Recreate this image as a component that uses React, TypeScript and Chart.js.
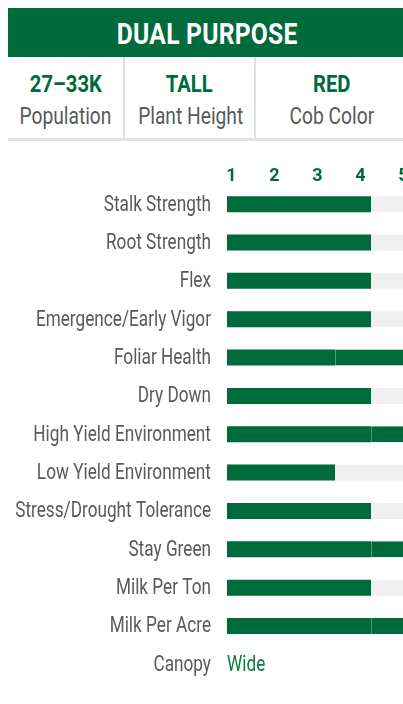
import React, { useEffect, useRef } from "react";
import { Chart, registerables } from "chart.js";

Chart.register(...registerables);

const title = "DUAL PURPOSE";
const statValues = ["27–33K", "TALL", "RED"];
const statLabels = ["Population", "Plant Height", "Cob Color"];
const statWidths = [115, 129, 151];

const traits = [
  "Stalk Strength",
  "Root Strength",
  "Flex",
  "Emergence/Early Vigor",
  "Foliar Health",
  "Dry Down",
  "High Yield Environment",
  "Low Yield Environment",
  "Stress/Drought Tolerance",
  "Stay Green",
  "Milk Per Ton",
  "Milk Per Acre",
  "Canopy",
];
const baseScores = [4, 4, 4, 4, 3, 4, 4, 3, 4, 4, 4, 4, null];
const extraScores = [null, null, null, null, 2, null, 1, null, null, 1, null, 1, null];
const scaleMax = 5;
const ratingTicks = [1, 2, 3, 4, 5];
const canopyIndex = 12;
const canopyValue = "Wide";

const GREEN = "#006b3a";
const TEXT_GREEN = "#0a7a3e";
const GRAY = "#58595b";
const FONT = "Roboto, 'Noto Sans', sans-serif";
const CONDENSE = 0.8;
const CONDENSE_BOLD = 0.86;
const CONDENSE_TITLE = 0.835;

function Condensed({ children, k }: { children: React.ReactNode; k: number }) {
  return (
    <span style={{ display: "inline-block", transform: `scaleX(${k})`, transformOrigin: "center", whiteSpace: "nowrap" }}>
      {children}
    </span>
  );
}

export default function App() {
  const ref = useRef<HTMLCanvasElement | null>(null);

  useEffect(() => {
    if (!ref.current) return;
    const trackData = baseScores.map((v) => (v == null ? null : scaleMax));
    const labelPlugin = {
      id: "condensedLabels",
      afterDatasetsDraw(chart: any) {
        const { ctx, chartArea, scales } = chart;
        const y = scales.y;
        const drawText = (text: string, x: number, py: number, align: CanvasTextAlign, color: string) => {
          ctx.save();
          ctx.translate(x, py);
          ctx.scale(CONDENSE, 1);
          ctx.font = `21.5px ${FONT}`;
          ctx.fillStyle = color;
          ctx.textAlign = align;
          ctx.textBaseline = "middle";
          ctx.fillText(text, 0, 0);
          ctx.restore();
        };
        chart.data.labels.forEach((lab: string, i: number) => {
          drawText(lab, chartArea.left - 16, y.getPixelForTick(i) + 1, "right", GRAY);
        });
        drawText(canopyValue, chartArea.left, y.getPixelForValue(canopyIndex) + 1, "left", TEXT_GREEN);
      },
    };
    const chart = new Chart(ref.current, {
      type: "bar",
      data: {
        labels: traits,
        datasets: [
          {
            label: "track",
            data: trackData,
            backgroundColor: "#efefef",
            stack: "track",
            grouped: false,
            order: 2,
            maxBarThickness: 16,
          } as any,
          {
            label: "base",
            data: baseScores,
            backgroundColor: GREEN,
            stack: "main",
            grouped: false,
            order: 1,
            maxBarThickness: 16,
          },
          {
            label: "extra",
            data: extraScores,
            backgroundColor: GREEN,
            borderColor: "#4f9a70",
            borderWidth: { left: 1, right: 0, top: 0, bottom: 0 },
            borderSkipped: false,
            stack: "main",
            grouped: false,
            order: 1,
            maxBarThickness: 16,
          },
        ],
      },
      options: {
        indexAxis: "y",
        responsive: false,
        animation: false,
        layout: { padding: { top: 0, left: 0, right: 13, bottom: 1.5 } },
        plugins: { legend: { display: false }, tooltip: { enabled: false } },
        scales: {
          x: { display: false, stacked: true, min: 0, max: scaleMax },
          x2: {
            type: "linear",
            position: "top",
            min: 1 - 4.5 / 43,
            max: 1 - 4.5 / 43 + 180 / 43,
            grid: { display: false, drawTicks: false },
            border: { display: false },
            afterBuildTicks: (s: any) => {
              s.ticks = ratingTicks.map((v) => ({ value: v }));
            },
            afterFit: (s: any) => {
              s.height = 40;
            },
            ticks: {
              padding: 0,
              color: GREEN,
              font: { family: FONT, size: 18, weight: "bold", lineHeight: 1 },
              callback: (v: any) => String(v),
              maxRotation: 0,
              autoSkip: false,
            },
          },
          y: {
            grid: { display: false, drawTicks: false },
            border: { display: false },
            afterFit: (s: any) => {
              s.width = 219;
            },
            ticks: { display: false },
          },
        },
      },
      plugins: [labelPlugin],
    });
    return () => chart.destroy();
  }, []);

  return (
    <div style={{ position: "absolute", left: 8, top: 8, width: 395, overflow: "hidden", fontFamily: FONT }}>
      <div style={{ width: 399 }}>
        <div
          style={{
            background: GREEN,
            color: "#fff",
            height: 49,
            lineHeight: "52px",
            overflow: "hidden",
            textAlign: "center",
            fontWeight: "bold",
            fontSize: 29.5,
            letterSpacing: 0.3,
          }}
        >
          <Condensed k={CONDENSE_TITLE}>{title}</Condensed>
        </div>
        <div style={{ display: "flex", height: 81, borderBottom: "3px solid #e3e3e3" }}>
          {statValues.map((v, i) => (
            <div
              key={i}
              style={{
                width: statWidths[i],
                flex: "none",
                borderLeft: i > 0 ? "2px solid #e0e0e0" : "none",
                textAlign: "center",
                paddingTop: 12.6,
                boxSizing: "content-box",
              }}
            >
              <div style={{ color: GREEN, fontWeight: "bold", fontSize: 23.5, lineHeight: "28px" }}>
                <Condensed k={CONDENSE_BOLD}>{v}</Condensed>
              </div>
              <div style={{ color: GRAY, fontSize: 24, lineHeight: "28px", marginTop: 4.7 }}>
                <Condensed k={CONDENSE}>{statLabels[i]}</Condensed>
              </div>
            </div>
          ))}
        </div>
        <canvas ref={ref} width={412} height={540} style={{ display: "block", marginTop: 4 }} />
      </div>
    </div>
  );
}
